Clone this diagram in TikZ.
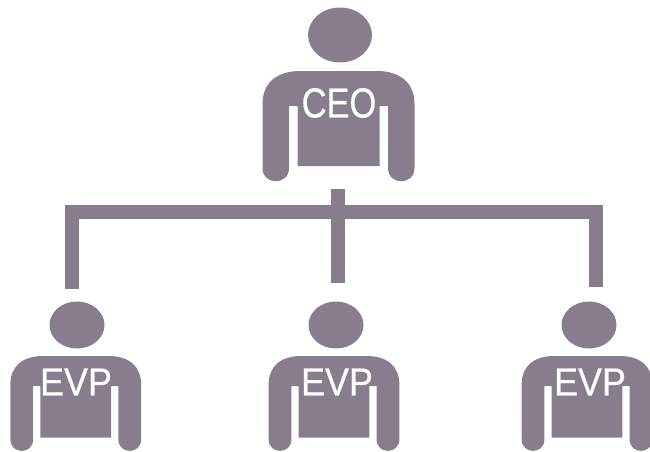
\documentclass[tikz,border=0pt]{standalone}
\usepackage{fontspec}
\setmainfont{Liberation Sans}
\newfontfamily\titlefont[FakeBold=0.6]{Liberation Sans}
\usetikzlibrary{shapes.geometric}
\definecolor{gris}{rgb}{0.533,0.49,0.549}

\begin{document}
\begin{tikzpicture}[x=1pt,y=-1pt]
	\tikzstyle{headCEO}=[ellipse, fill=gris, inner sep=0pt, minimum width=64pt, minimum height=55pt]
	\tikzstyle{headEVP}=[ellipse, fill=gris, inner sep=0pt, minimum width=55pt, minimum height=47pt]
	\tikzstyle{titleCEO}=[text=white, inner sep=0pt, xscale=0.82, transform shape, font=\titlefont\fontsize{42}{42}\selectfont]
	\tikzstyle{titleEVP}=[text=white, inner sep=0pt, xscale=0.92, transform shape, font=\titlefont\fontsize{39}{39}\selectfont]
	\tikzstyle{link}=[draw=gris, line width=14pt, miter limit=10]
	\tikzset{torso/.pic={
		\fill[gris] (-76,33) .. controls (-76,12) and (-62,0) .. (-38,0) -- (38,0)
			.. controls (62,0) and (76,12) .. (76,33) -- (76,97)
			.. controls (76,114.7) and (49.5,114.7) .. (49.5,97) -- (49.5,35) -- (41,35) -- (41,95)
			-- (-41,95) -- (-41,35) -- (-49.5,35) -- (-49.5,97)
			.. controls (-49.5,114.7) and (-76,114.7) .. (-76,97) -- cycle;
	}}

	\useasboundingbox (0,0) rectangle (650,451);

	% BODIES
	\pic at (338.5,71) {torso};
	\pic[scale=0.86] at (75.75,356) {torso};
	\pic[scale=0.86] at (334,356) {torso};
	\pic[scale=0.86] at (587,356) {torso};

	% HEADS
	\node[headCEO] (HC) at (340,35) {};
	\node[headEVP] (H1) at (77,325) {};
	\node[headEVP] (H2) at (336,325) {};
	\node[headEVP] (H3) at (589,325) {};

	% TITLES
	\node[titleCEO] (CEO) at (339,103) {CEO};
	\node[titleEVP] (EVP1) at (76,382) {EVP};
	\node[titleEVP] (EVP2) at (337,382) {EVP};
	\node[titleEVP] (EVP3) at (590,382) {EVP};

	% LINKS
	\coordinate (Ltop) at (338,189);
	\coordinate (Lmid) at (338,283);
	\coordinate (Lleft) at (72,289);
	\coordinate (Lright) at (595.5,287);
	\coordinate (Lbar) at (338,211.5);

	\draw[link] (Ltop) -- (Lmid);
	\draw[link] (Lleft) |- (Lbar) -| (Lright);
\end{tikzpicture}
\end{document}
